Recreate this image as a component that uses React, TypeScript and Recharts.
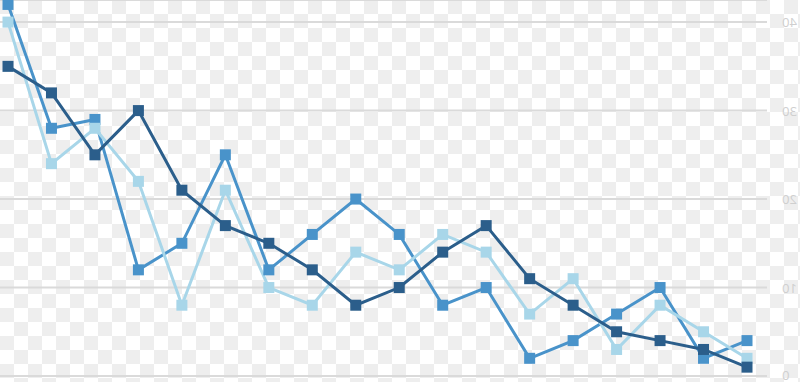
import React from 'react';
import { LineChart, Line, XAxis, YAxis, CartesianGrid } from 'recharts';

const positions = [0, 1, 2, 3, 4, 5, 6, 7, 8, 9, 10, 11, 12, 13, 14, 15, 16, 17];
const darkSeries = [35, 32, 25, 30, 21, 17, 15, 12, 8, 10, 14, 17, 11, 8, 5, 4, 3, 1];
const mediumSeries = [42, 28, 29, 12, 15, 25, 12, 16, 20, 16, 8, 10, 2, 4, 7, 10, 2, 4];
const lightSeries = [40, 24, 28, 22, 8, 21, 10, 8, 14, 12, 16, 14, 7, 11, 3, 8, 5, 2];
const yTicks = [0, 10, 20, 30, 40];

const data = positions.map((p, i) => ({
  x: p,
  dark: darkSeries[i],
  medium: mediumSeries[i],
  light: lightSeries[i],
}));

const COLORS = { dark: '#2b5e8b', medium: '#4993ca', light: '#a8d6e9' };

const makeDot = (color: string) => (props: any) => {
  const { cx, cy, index } = props;
  if (cx == null || cy == null) return <g key={index} />;
  const s = 11;
  return <rect key={index} x={cx - s / 2} y={cy - s / 2} width={s} height={s} fill={color} />;
};

const MirroredTick = (props: any) => {
  const { y, payload } = props;
  const tx = 782;
  return (
    <text
      transform="scale(-1,1)"
      x={-tx}
      y={payload.value === 0 ? y - 1 : y}
      textAnchor="end"
      dominantBaseline="central"
      fill="#cfcfcf"
      fontSize={13}
      fontFamily="'Open Sans', 'DejaVu Sans', sans-serif"
    >
      {payload.value}
    </text>
  );
};

export default function App() {
  return (
    <div
      style={{
        position: 'absolute',
        left: 0,
        top: 0,
        width: 800,
        height: 382,
        overflow: 'hidden',
        background: '#ffffff',
      }}
    >
      <svg width={800} height={382} style={{ position: 'absolute', left: 0, top: 0 }}>
        <defs>
          <pattern id="checker" width={28} height={28} patternUnits="userSpaceOnUse">
            <rect width={28} height={28} fill="#ffffff" />
            <rect x={0} y={0} width={14} height={14} fill="#eeeeee" />
            <rect x={14} y={14} width={14} height={14} fill="#eeeeee" />
          </pattern>
        </defs>
        <rect width={800} height={382} fill="url(#checker)" />
      </svg>
      <div style={{ position: 'absolute', left: 0, top: 0 }}>
        <LineChart width={800} height={382} data={data} margin={{ top: 0, right: 0, bottom: 6, left: 0 }}>
          <CartesianGrid vertical={false} stroke="#dadada" strokeWidth={2} />
          <XAxis dataKey="x" type="number" domain={[0, 17]} hide padding={{ left: 8, right: 20 }} />
          <YAxis
            orientation="right"
            width={33}
            domain={[0, 42.5]}
            ticks={yTicks}
            axisLine={false}
            tickLine={false}
            tick={<MirroredTick />}
            interval={0}
          />
          <Line
            dataKey="medium"
            stroke={COLORS.medium}
            strokeWidth={3}
            dot={makeDot(COLORS.medium)}
            activeDot={false}
            isAnimationActive={false}
          />
          <Line
            dataKey="light"
            stroke={COLORS.light}
            strokeWidth={3}
            dot={makeDot(COLORS.light)}
            activeDot={false}
            isAnimationActive={false}
          />
          <Line
            dataKey="dark"
            stroke={COLORS.dark}
            strokeWidth={3}
            dot={makeDot(COLORS.dark)}
            activeDot={false}
            isAnimationActive={false}
          />
        </LineChart>
      </div>
    </div>
  );
}
